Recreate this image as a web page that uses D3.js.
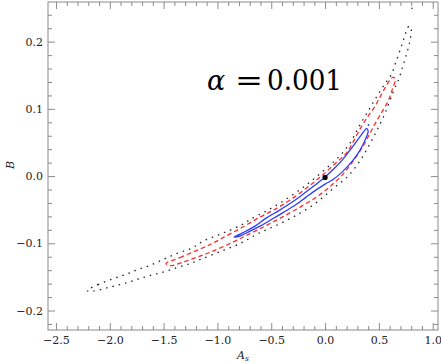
<!DOCTYPE html>
<html><head><meta charset="utf-8">
<script src="https://cdn.jsdelivr.net/npm/d3@7"></script>
<style>
html,body{margin:0;padding:0;background:#fff;}
svg{display:block;}
</style></head>
<body>
<script>
// ---- data ----
const xMajor = [-2.5, -2.0, -1.5, -1.0, -0.5, 0.0, 0.5, 1.0];
const xMajorLabels = ["\u22122.5", "\u22122.0", "\u22121.5", "\u22121.0", "\u22120.5", "0.0", "0.5", "1.0"];
const yMajor = [-0.2, -0.1, 0.0, 0.1, 0.2];
const yMajorLabels = ["\u22120.2", "\u22120.1", "0.0", "0.1", "0.2"];
const xMinor = [-2.4,-2.3,-2.2,-2.1,-1.9,-1.8,-1.7,-1.6,-1.4,-1.3,-1.2,-1.1,-0.9,-0.8,-0.7,-0.6,-0.4,-0.3,-0.2,-0.1,0.1,0.2,0.3,0.4,0.6,0.7,0.8,0.9];
const yMinor = [-0.22,-0.18,-0.16,-0.14,-0.12,-0.08,-0.06,-0.04,-0.02,0.02,0.04,0.06,0.08,0.12,0.14,0.16,0.18,0.22,0.24];

// 1-sigma contour (blue, solid)
const blueX = [-0.846,-0.762,-0.651,-0.548,-0.437,-0.325,-0.232,-0.112,0.0,0.074,0.167,0.260,0.335,0.386,
               0.400,0.372,0.325,0.260,0.167,0.074,0.0,-0.093,-0.177,-0.270,-0.390,-0.483,-0.595,-0.697,-0.781];
const blueY = [-0.0908,-0.0841,-0.0744,-0.0625,-0.0521,-0.0409,-0.0305,-0.0156,-0.0015,0.0097,0.0253,0.0446,0.0610,0.0707,
               0.0670,0.0536,0.0387,0.0238,0.0074,-0.0052,-0.0119,-0.0216,-0.0313,-0.0424,-0.0543,-0.0632,-0.0737,-0.0818,-0.0885];

// 2-sigma contour (red, dashed)
const redX = [-1.478,-1.348,-1.162,-1.041,-0.948,-0.790,-0.604,-0.446,-0.325,-0.167,-0.046,0.074,0.204,0.270,0.335,0.400,0.465,0.520,0.567,0.604,0.632,
              0.651,0.623,0.586,0.539,0.483,0.418,0.353,0.260,0.167,0.046,-0.074,-0.232,-0.390,-0.539,-0.697,-0.855,-1.041,-1.162,-1.320,-1.441];
const redY = [-0.1302,-0.1213,-0.1086,-0.0997,-0.0915,-0.0781,-0.0610,-0.0476,-0.0357,-0.0171,-0.0015,0.0156,0.0357,0.0536,0.0729,0.0893,0.1042,0.1205,0.1339,0.1429,0.1473,
              0.1443,0.1280,0.1116,0.0982,0.0833,0.0640,0.0446,0.0223,0.0030,-0.0156,-0.0305,-0.0461,-0.0603,-0.0729,-0.0856,-0.0982,-0.1116,-0.1190,-0.1280,-0.1332];

// 3-sigma contour (black, dotted)
const blackX = [-2.212,-2.110,-1.980,-1.859,-1.738,-1.608,-1.487,-1.366,-1.236,-1.134,-1.004,-0.883,-0.771,-0.697,-0.539,-0.390,-0.232,-0.112,0.019,0.139,0.232,0.288,0.344,0.400,0.455,0.511,0.567,0.618,0.651,0.678,0.706,0.725,0.743,0.762,0.781,
                0.799,0.790,0.762,0.725,0.688,0.632,0.558,0.483,0.400,0.307,0.204,0.074,-0.074,-0.232,-0.418,-0.623,-0.790,-0.976,-1.162,-1.255,-1.375,-1.506,-1.645,-1.766,-1.887,-2.017,-2.156];
const blackY = [-0.1704,-0.1615,-0.1533,-0.1466,-0.1391,-0.1317,-0.1228,-0.1146,-0.1071,-0.0967,-0.0885,-0.0804,-0.0722,-0.0647,-0.0513,-0.0372,-0.0201,-0.0052,0.0126,0.0305,0.0491,0.0655,0.0818,0.0967,0.1116,0.1265,0.1399,0.1518,0.1667,0.1786,0.1920,0.2009,0.2098,0.2188,0.2232,
                0.2188,0.2024,0.1845,0.1652,0.1458,0.1250,0.0938,0.0685,0.0432,0.0186,-0.0015,-0.0186,-0.0387,-0.0551,-0.0707,-0.0856,-0.1004,-0.1124,-0.1243,-0.1302,-0.1362,-0.1429,-0.1488,-0.1548,-0.1607,-0.1659,-0.1711];

// best fit point and stray contour fragments
const bestFit = [0.0, -0.002];
const strayBlack = [0.806, 0.2496];
const strayBlue = [0.403, 0.076];

const titleParts = ["\u03b1", "=", "0.001"];

// ---- drawing ----
const W = 441, H = 364;
const frame = {left: 48, right: 438, top: 2, bottom: 330};
const svg = d3.select("body").append("svg").attr("width", W).attr("height", H);

const x = d3.scaleLinear().domain([-2.574, 1.049]).range([frame.left, frame.right]);
const y = d3.scaleLinear().domain([-0.229, 0.259]).range([frame.bottom, frame.top]);

const FONT = "'DejaVu Serif', 'Liberation Serif', serif";
const axisColor = "#8a8a8a";

function styleAxis(g) {
  g.select(".domain").remove();
  g.selectAll(".tick line").attr("stroke", axisColor).attr("stroke-width", 1);
  g.selectAll(".tick text").attr("fill", "#222").style("font-family", FONT).attr("font-size", 11);
}

// bottom
svg.append("g").attr("transform", `translate(0,${frame.bottom})`)
  .call(d3.axisBottom(x).tickValues(xMajor).tickSize(-7).tickPadding(6).tickFormat((d,i)=>xMajorLabels[i]))
  .call(styleAxis);
svg.append("g").attr("transform", `translate(0,${frame.bottom})`)
  .call(d3.axisBottom(x).tickValues(xMinor).tickSize(-4).tickFormat(""))
  .call(styleAxis);
// top
svg.append("g").attr("transform", `translate(0,${frame.top})`)
  .call(d3.axisTop(x).tickValues(xMajor).tickSize(-7).tickFormat(""))
  .call(styleAxis);
svg.append("g").attr("transform", `translate(0,${frame.top})`)
  .call(d3.axisTop(x).tickValues(xMinor).tickSize(-4).tickFormat(""))
  .call(styleAxis);
// left
svg.append("g").attr("transform", `translate(${frame.left},0)`)
  .call(d3.axisLeft(y).tickValues(yMajor).tickSize(-7).tickPadding(5).tickFormat((d,i)=>yMajorLabels[i]))
  .call(styleAxis);
svg.append("g").attr("transform", `translate(${frame.left},0)`)
  .call(d3.axisLeft(y).tickValues(yMinor).tickSize(-4).tickFormat(""))
  .call(styleAxis);
// right
svg.append("g").attr("transform", `translate(${frame.right},0)`)
  .call(d3.axisRight(y).tickValues(yMajor).tickSize(-7).tickFormat(""))
  .call(styleAxis);
svg.append("g").attr("transform", `translate(${frame.right},0)`)
  .call(d3.axisRight(y).tickValues(yMinor).tickSize(-4).tickFormat(""))
  .call(styleAxis);

// frame
svg.append("rect")
  .attr("x", frame.left).attr("y", frame.top)
  .attr("width", frame.right - frame.left).attr("height", frame.bottom - frame.top)
  .attr("fill", "none").attr("stroke", axisColor).attr("stroke-width", 1);

// contours
const line = d3.line().x(d => x(d[0])).y(d => y(d[1])).curve(d3.curveCatmullRomClosed.alpha(0.5));
const zip = (a, b) => a.map((v, i) => [v, b[i]]);

svg.append("path").datum(zip(blackX, blackY)).attr("d", line)
  .attr("fill", "none").attr("stroke", "#222").attr("stroke-width", 1.3)
  .attr("stroke-dasharray", "1.5,5");
svg.append("path").datum(zip(redX, redY)).attr("d", line)
  .attr("fill", "none").attr("stroke", "#ff2a2a").attr("stroke-width", 1.3)
  .attr("stroke-dasharray", "4.5,3");
svg.append("path").datum(zip(blueX, blueY)).attr("d", line)
  .attr("fill", "none").attr("stroke", "#2a3cff").attr("stroke-width", 1.3);

svg.append("circle").attr("cx", x(strayBlack[0])).attr("cy", y(strayBlack[1])).attr("r", 0.8).attr("fill", "#222");
svg.append("circle").attr("cx", x(strayBlue[0])).attr("cy", y(strayBlue[1])).attr("r", 0.9).attr("fill", "#2a3cff");

svg.append("circle").attr("cx", x(bestFit[0])).attr("cy", y(bestFit[1])).attr("r", 2.6).attr("fill", "#000");

// title
const t = svg.append("text").attr("y", 90)
  .style("font-family", FONT).attr("font-size", 27).attr("fill", "#000");
t.append("tspan").attr("x", 207).attr("font-style", "italic").text(titleParts[0]);
t.append("tspan").attr("x", 235).attr("textLength", 28).attr("lengthAdjust", "spacingAndGlyphs").text(titleParts[1]);
t.append("tspan").attr("x", 267).attr("textLength", 75).attr("lengthAdjust", "spacingAndGlyphs").text(titleParts[2]);

// axis labels
const xl = svg.append("text").attr("x", 243).attr("y", 359).attr("text-anchor", "middle")
  .style("font-family", FONT).attr("font-size", 11).attr("font-style", "italic").attr("fill", "#222");
xl.append("tspan").text("A");
xl.append("tspan").attr("font-size", 7.5).attr("dy", 2).text("s");

svg.append("text").attr("transform", "translate(14,165) rotate(-90)").attr("text-anchor", "middle")
  .style("font-family", FONT).attr("font-size", 11).attr("font-style", "italic").attr("fill", "#222")
  .text("B");
</script>
</body></html>
